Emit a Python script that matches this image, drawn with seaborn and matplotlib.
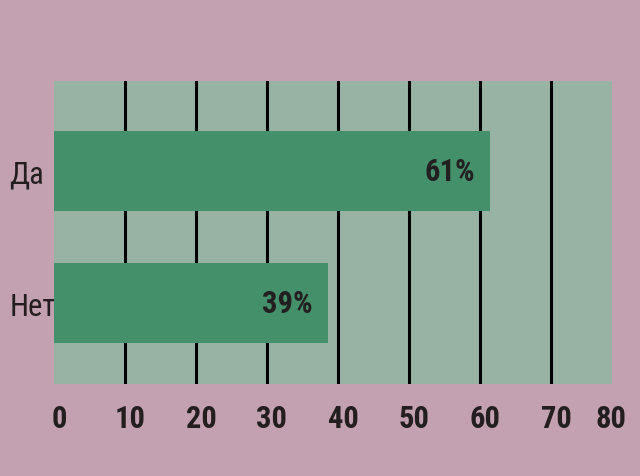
import matplotlib
matplotlib.use("Agg")
import matplotlib.pyplot as plt
import matplotlib.transforms as mtransforms
import seaborn as sns
import pandas as pd

# data
answers = ["Да", "Нет"]
shares = [61.4, 38.6]
value_labels = ["61%", "39%"]
tick_values = [0, 10, 20, 30, 40, 50, 60, 70]
tick_labels = ["0", "10", "20", "30", "40", "50", "60", "70"]
grid_values = [10, 20, 30, 40, 50, 60, 70]

page_bg = "#c4a1b1"
plot_bg = "#98b3a3"
bar_green = "#44906a"
ink = "#231f20"

df = pd.DataFrame({"answer": answers, "share": shares})

sns.set_theme(style="white")
plt.rcParams["font.family"] = ["Roboto Condensed", "Roboto", "DejaVu Sans"]

fig = plt.figure(figsize=(6.4, 4.77), dpi=100, facecolor=page_bg)
ax = fig.add_axes([0.0844, 0.193, 0.8719, 0.635])
ax.set_facecolor(plot_bg)

# vertical black lines behind the bars
for g in grid_values:
    ax.axvline(g, color="black", linewidth=2.2, zorder=1)

sns.barplot(data=df, x="share", y="answer", orient="h", color=bar_green,
            saturation=1, width=0.606, linewidth=0, ax=ax, zorder=2)

for i, (v, lab) in enumerate(zip(shares, value_labels)):
    ax.annotate(lab, xy=(v, i), xytext=(-11, 0), textcoords="offset points",
                ha="right", va="center", fontsize=22, fontweight="bold",
                color=ink, zorder=3)

ax.set_xlim(0, 78.6)
ax.set_ylim(1.61, -0.68)

# the panel stops short of 80, so its label goes just inside the edge
ax.set_xticks(tick_values + [77.8])
ax.set_xticklabels(tick_labels + ["80"], fontsize=22, fontweight="bold", color=ink)
ax.tick_params(axis="x", length=0, pad=14)
ax.tick_params(axis="y", length=0, pad=32, labelsize=22, labelcolor=ink)
for t in ax.get_yticklabels():
    t.set_horizontalalignment("left")

# numbers sit a little right of their lines in the original
shift = mtransforms.ScaledTranslation(0.05, 0, fig.dpi_scale_trans)
for t in ax.get_xticklabels():
    t.set_transform(t.get_transform() + shift)

ax.set_xlabel("")
ax.set_ylabel("")
for s in ax.spines.values():
    s.set_visible(False)

fig.savefig("out.png", dpi=100, facecolor=page_bg)
